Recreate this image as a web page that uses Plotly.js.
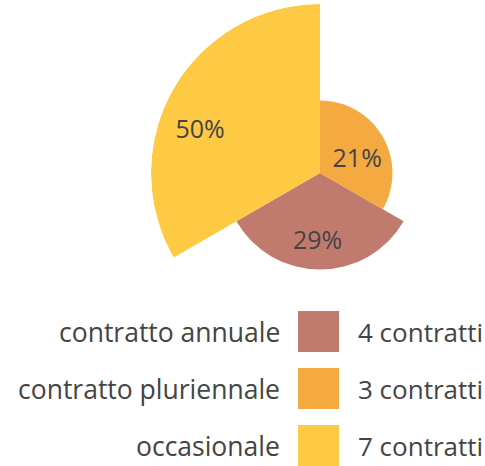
<!DOCTYPE html>
<html><head><meta charset="utf-8">
<script src="https://cdn.plot.ly/plotly-3.0.1.min.js"></script>
<style>html,body{margin:0;padding:0;overflow:hidden;background:#fff;}#chart{width:490px;height:466px;}</style>
</head><body><div id="chart"></div>
<script>
// Data
const categories = ["contratto annuale", "contratto pluriennale", "occasionale"];
const counts = [4, 3, 7];
const countLabels = ["4 contratti", "3 contratti", "7 contratti"];
const colors = ["#C17B6E", "#F5A941", "#FEC943"];
// angular order of slices (clockwise from top): pluriennale, annuale, occasionale
const sliceOrder = [1, 0, 2];

const W = 490, H = 466;
const total = counts.reduce((a, b) => a + b, 0);
const pct = counts.map(c => Math.round(c / total * 100) + "%");
const sliceWidth = 360 / categories.length;
const thetaOf = categories.map((_, i) => sliceOrder.indexOf(i) * sliceWidth + sliceWidth / 2);

// label placement in polar coordinates (style/layout)
const labelPos = [{r: 2.9, t: 182}, {r: 1.62, t: 72}, {r: 5.25, t: 289}];

const cx = 320, cy = 173, R = 169;
const px = x => x / W, py = y => 1 - y / H;
const FONT = "'Open Sans', Lato, sans-serif";
const TXT = "#444444";

const traces = [{
  type: "barpolar",
  r: counts,
  theta: thetaOf,
  width: categories.map(() => sliceWidth),
  marker: {color: colors, line: {width: 0}},
  hoverinfo: "skip",
  showlegend: false
}, {
  type: "scatterpolar",
  mode: "text",
  r: labelPos.map(p => p.r),
  theta: labelPos.map(p => p.t),
  text: pct,
  textfont: {family: FONT, size: 25, color: TXT},
  hoverinfo: "skip",
  showlegend: false
}];

const rowY = [332, 389, 446];
const sqTop = [311, 368, 425];
const annotations = [], shapes = [];
categories.forEach((c, i) => {
  annotations.push({xref: "paper", yref: "paper", x: px(282), y: py(rowY[i]), xanchor: "right", yanchor: "middle",
    text: c, showarrow: false, font: {family: FONT, size: 26.5, color: TXT}});
  annotations.push({xref: "paper", yref: "paper", x: px(356), y: py(rowY[i]), xanchor: "left", yanchor: "middle",
    text: countLabels[i], showarrow: false, font: {family: FONT, size: 26, color: TXT}});
  shapes.push({type: "rect", xref: "paper", yref: "paper", x0: px(298), x1: px(339), y0: py(sqTop[i] + 41), y1: py(sqTop[i]),
    fillcolor: colors[i], line: {width: 0}});
});

const layout = {
  width: W, height: H,
  margin: {l: 0, r: 0, t: 0, b: 0},
  paper_bgcolor: "#fff",
  showlegend: false,
  polar: {
    domain: {x: [px(cx - R), px(cx + R)], y: [py(cy + R), py(cy - R)]},
    bgcolor: "rgba(0,0,0,0)",
    radialaxis: {visible: false, range: [0, 7]},
    angularaxis: {visible: false, direction: "clockwise", rotation: 90},
    bargap: 0
  },
  annotations: annotations,
  shapes: shapes
};
Plotly.newPlot("chart", traces, layout, {displayModeBar: false, staticPlot: true});
</script></body></html>
